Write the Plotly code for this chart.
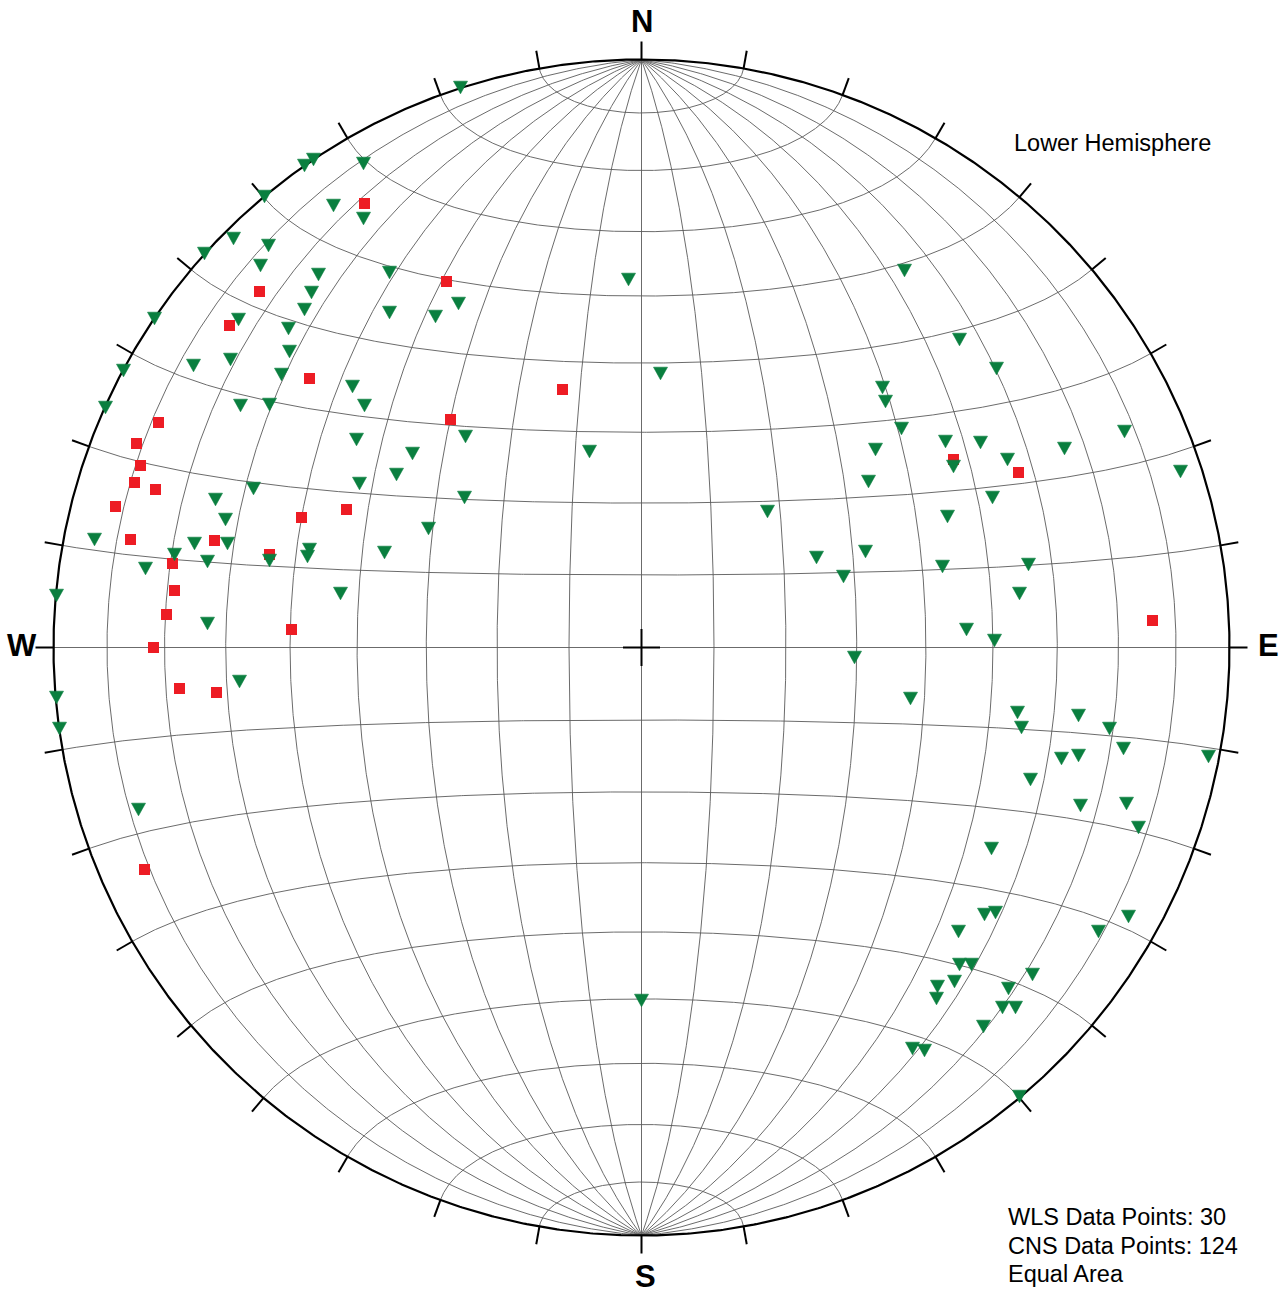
import numpy as np
import plotly.graph_objects as go

# ---------------- data (equal-area projected coordinates, net radius = 588 units) -------------
R = 588.0

wls_east = [-382, -412, -332, -277, -195, -79, -191, -483, -505, -501,
            -507, -486, -526, -340, -295, -511, -427, -469, -372, -467,
            -475, -350, -488, -462, -425, -497, 312, 377, 511]
wls_north = [356, 322, 269, 444, 366, 258, 228, 225, 204, 182,
             165, 158, 141, 130, 138, 108, 107, 84, 93, 57,
             33, 18, 0, -41, -45, -222, 188, 175, 27]

cns_east = [-328, -337, -377, -308, -408, -373, -437, -381, -323, -330,
            -337, -403, -487, -353, -352, -411, -448, -518, -360, -181,
            -278, -278, -252, -13, -183, -252, -206, 19, -289, -277,
            -176, -285, -229, -52, -245, -282, -177, -213, -257, -301,
            -536, -401, -372, -388, -426, -416, -547, -447, -414, -467,
            -434, -372, -332, -334, -496, -585, -434, -402, -585, -582,
            -503, 263, 318, 355, 241, 244, 260, 483, 234, 304,
            339, 423, 312, 366, 539, 227, 351, 126, 306, 175,
            224, 202, 301, 387, 378, 325, 353, 213, 269, 376,
            380, 437, 468, 482, 420, 437, 567, 389, 439, 485,
            497, 350, 343, 354, 487, 457, 317, 318, 330, 391,
            313, 296, 295, 367, 361, 374, 342, 271, 283, 378,
            0]
cns_north = [488, 482, 451, 442, 409, 402, 394, 382, 373, 355,
             338, 328, 329, 319, 296, 288, 282, 277, 273, 560,
             484, 429, 375, 368, 344, 335, 331, 274, 261, 242,
             211, 208, 194, 196, 173, 164, 150, 119, 95, 54,
             240, 242, 243, 159, 148, 128, 108, 104, 104, 93,
             86, 87, 98, 91, 79, 52, 24, -34, -50, -81,
             -162, 377, 308, 279, 260, 246, 219, 216, 198, 206,
             205, 199, 181, 188, 176, 166, 150, 136, 131, 90,
             96, 71, 81, 83, 54, 18, 7, -10, -51, -65,
             -80, -68, -81, -101, -111, -108, -109, -132, -158, -156,
             -180, -201, -267, -265, -269, -284, -284, -317, -317, -327,
             -334, -339, -351, -341, -360, -360, -379, -401, -403, -449,
             -353]

legend_lines = ["WLS Data Points: 30", "CNS Data Points: 124", "Equal Area"]
hemisphere_label = "Lower Hemisphere"

# ---------------- styling -----------------
W, H = 1279, 1293
CX, CY = 641.5, 647.5          # net centre in the figure (pixels)
RED = "#ED1C24"
GREEN = "#0A7F3F"
GRID = "#5a5a5a"
FONT = "Liberation Sans, Arial, Helvetica, sans-serif"


def proj(E, N, D):
    f = R / np.sqrt(1.0 + D)
    return E * f, N * f


fig = go.Figure()

# Schmidt net: great circles through N-S and small circles about N-S axis
gx, gy = [], []
s = np.linspace(0, np.pi, 721)
for phi in range(10, 180, 10):
    p = np.radians(phi)
    x, y = proj(np.sin(s) * np.cos(p), np.cos(s), np.sin(s) * np.sin(p))
    gx += list(x) + [None]
    gy += list(y) + [None]
for lat in range(-80, 90, 10):
    la = np.radians(lat)
    x, y = proj(np.cos(la) * np.cos(s), np.full_like(s, np.sin(la)), np.cos(la) * np.sin(s))
    gx += list(x) + [None]
    gy += list(y) + [None]
fig.add_trace(go.Scatter(x=gx, y=gy, mode="lines", line=dict(color=GRID, width=0.9),
                         hoverinfo="skip", showlegend=False))

# primitive circle
t = np.linspace(0, 2 * np.pi, 1441)
fig.add_trace(go.Scatter(x=R * np.sin(t), y=R * np.cos(t), mode="lines",
                         line=dict(color="black", width=2.2), hoverinfo="skip", showlegend=False))

# azimuth ticks every 10 degrees
tx, ty = [], []
for az in range(0, 360, 10):
    a = np.radians(az)
    tx += [R * np.sin(a), (R + 18) * np.sin(a), None]
    ty += [R * np.cos(a), (R + 18) * np.cos(a), None]
fig.add_trace(go.Scatter(x=tx, y=ty, mode="lines", line=dict(color="black", width=2),
                         hoverinfo="skip", showlegend=False))

# centre cross
fig.add_trace(go.Scatter(x=[-18.5, 18.5, None, 0, 0], y=[0, 0, None, -18.5, 18.5], mode="lines",
                         line=dict(color="black", width=2), hoverinfo="skip", showlegend=False))

# WLS: red squares
fig.add_trace(go.Scatter(x=wls_east, y=wls_north, mode="markers", name="WLS",
                         marker=dict(symbol="square", size=11, color=RED, line=dict(width=0)),
                         hoverinfo="skip", showlegend=False))

# CNS: green downward triangles (drawn as small polygons around each data point)
px_, py_ = [], []
for e, n in zip(cns_east, cns_north):
    px_ += [e - 7, e + 7, e, e - 7, None]
    py_ += [n + 6.3, n + 6.3, n - 6.3, n + 6.3, None]
fig.add_trace(go.Scatter(x=px_, y=py_, mode="lines", fill="toself", fillcolor=GREEN, name="CNS",
                         line=dict(color=GREEN, width=0.6), hoverinfo="skip", showlegend=False))


def ann(text, px, py, size, bold=False, xanchor="center"):
    fig.add_annotation(x=px / W, y=1 - py / H, xref="paper", yref="paper",
                       text=text, showarrow=False, xanchor=xanchor, yanchor="middle",
                       font=dict(family=FONT, size=size, color="black",
                                 weight="bold" if bold else "normal"))


# compass letters
ann("N", 641.5, 21, 31, True)
ann("S", 645, 1276, 31, True)
ann("W", 22, 645, 31, True)
ann("E", 1268, 645, 31, True)

ann(hemisphere_label, 1012, 143, 23.5, xanchor="left")
for i, line in enumerate(legend_lines):
    ann(line, 1006, 1217 + 28.5 * i, 23.5, xanchor="left")

fig.update_layout(
    width=W, height=H, margin=dict(l=0, r=0, t=0, b=0),
    paper_bgcolor="white", plot_bgcolor="white",
    xaxis=dict(range=[-CX, W - CX], visible=False, fixedrange=True),
    yaxis=dict(range=[CY - H, CY], visible=False, fixedrange=True),
    showlegend=False, hovermode=False,
)

fig.write_html("out.html", config={"displayModeBar": False, "staticPlot": True},
               post_script="document.body.style.margin='0';document.body.style.overflow='hidden';")
